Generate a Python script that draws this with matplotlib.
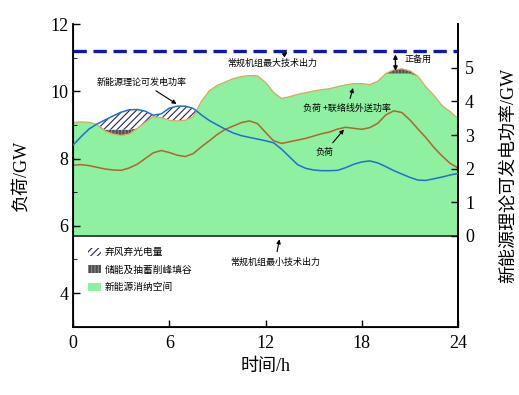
import numpy as np
import matplotlib
matplotlib.use('Agg')
import matplotlib.pyplot as plt
from matplotlib.patches import Patch

# hours, 0.5 h step
hours = np.arange(0, 24.01, 0.5)

# renewable theoretical output (right axis, GW)
renew = [2.70, 2.95, 3.18, 3.33, 3.45, 3.57, 3.68, 3.75, 3.76, 3.71, 3.59, 3.63,
         3.80, 3.86, 3.86, 3.79, 3.60, 3.43, 3.30, 3.17, 3.06, 2.98, 2.93, 2.88,
         2.83, 2.77, 2.58, 2.35, 2.12, 2.01, 1.96, 1.94, 1.94, 1.95, 2.03, 2.13,
         2.20, 2.23, 2.17, 2.06, 1.94, 1.84, 1.74, 1.66, 1.65, 1.70, 1.75, 1.81, 1.86]

# load (left axis, GW)
load = [7.80, 7.82, 7.79, 7.74, 7.69, 7.66, 7.65, 7.72, 7.83, 8.00, 8.17, 8.24,
        8.18, 8.10, 8.06, 8.15, 8.35, 8.53, 8.72, 8.87, 8.97, 9.07, 9.12, 9.04,
        8.78, 8.53, 8.45, 8.50, 8.55, 8.60, 8.67, 8.74, 8.79, 8.88, 8.93, 8.90,
        8.87, 8.92, 9.05, 9.30, 9.42, 9.37, 9.15, 8.88, 8.62, 8.33, 8.08, 7.86, 7.72]

# load + tie-line export (left axis, GW)
load_exp = [9.08, 9.09, 9.08, 9.01, 8.82, 8.73, 8.69, 8.73, 8.90, 9.08, 9.25, 9.22,
            9.14, 9.12, 9.14, 9.25, 9.70, 10.02, 10.18, 10.28, 10.38, 10.44, 10.47, 10.46,
            10.27, 9.97, 9.79, 9.84, 9.91, 9.96, 10.01, 10.05, 10.08, 10.14, 10.19, 10.23,
            10.23, 10.20, 10.30, 10.53, 10.64, 10.67, 10.61, 10.45, 10.13, 9.88, 9.58, 9.40, 9.19]

p_min = 5.7       # conventional units min output
p_max = 11.2      # conventional units max output
valley_fill = 8.86
peak_shave = 10.53

renew = np.array(renew)
load = np.array(load)
load_exp = np.array(load_exp)
renew_left = renew + p_min
shaped = np.clip(load_exp, valley_fill, peak_shave)

serif = ['Liberation Serif', 'Noto Sans CJK SC']
cjk = ['Noto Sans CJK SC', 'DejaVu Sans']
plt.rcParams['hatch.linewidth'] = 0.8

green = '#8EF0A0'

fig = plt.figure(figsize=(5.19, 3.95), dpi=100)
ax = fig.add_axes([0.1407, 0.173, 0.7418, 0.766])

ax.fill_between(hours, p_min, np.minimum(load_exp, peak_shave), facecolor=green,
                linewidth=0, zorder=1)
ax.fill_between(hours, load_exp, shaped, where=load_exp != shaped, interpolate=True,
                facecolor='#505050', hatch='|||||', edgecolor='#8a8a8a', linewidth=0, zorder=2)
ax.fill_between(hours, shaped, renew_left, where=renew_left > shaped, interpolate=True,
                facecolor='white', hatch='/////', edgecolor='#25255a', linewidth=0, zorder=2)
ax.axhline(p_min, color='#2c3a2c', lw=1.3, zorder=3)
ax.plot(hours, load, color='#b0652e', lw=1.1, zorder=4)
ax.plot(hours, load_exp, color='#d9a860', lw=0.9, zorder=4)
ax.axhline(p_max, color='#1018a8', lw=2.4, ls=(0, (4, 2)), zorder=5)

ax.set_xlim(0, 24)
ax.set_ylim(3, 12)
ax.set_xticks([0, 6, 12, 18, 24])
ax.set_yticks([4, 6, 8, 10, 12])
ax.set_yticks([5, 7, 9, 11], minor=True)
ax.tick_params(direction='in', labelsize=13, length=5, width=1)
ax.tick_params(which='minor', direction='in', length=3)
ax.tick_params(axis='x', pad=6)
for lab in ax.get_xticklabels() + ax.get_yticklabels():
    lab.set_family('Liberation Serif')
ax.spines['top'].set_visible(False)
for s in ['left', 'bottom', 'right']:
    ax.spines[s].set_linewidth(1.3)
ax.set_xlabel('时间/h', family=serif, fontsize=13, labelpad=4)
ax.set_ylabel('负荷/GW', family=serif, fontsize=13, labelpad=15)

ax2 = ax.twinx()
ax2.plot(hours, renew, color='#1f6fd0', lw=1.1, zorder=4)
ax2.set_ylim(3 - p_min, 12 - p_min)
ax2.set_yticks([0, 1, 2, 3, 4, 5])
ax2.tick_params(direction='in', labelsize=13, length=5, width=1, pad=5)
for lab in ax2.get_yticklabels():
    lab.set_family('Liberation Serif')
ax2.spines['top'].set_visible(False)
ax2.spines['right'].set_linewidth(1.3)
ax2.set_ylabel('新能源理论可发电功率/GW', family=serif, fontsize=13, labelpad=19)

arrow = dict(arrowstyle='-|>', color='black', lw=0.8, mutation_scale=6)
fs = 6.5
ax.annotate('常规机组最大技术出力', xy=(13.5, p_max), xytext=(12.4, 10.84),
            ha='center', va='center', fontsize=fs, family=cjk, arrowprops=arrow, zorder=6)
ax.annotate('新能源理论可发电功率', xy=(6.6, 9.58), xytext=(4.3, 10.28),
            ha='center', va='center', fontsize=fs, family=cjk, arrowprops=arrow, zorder=6)
ax.annotate('负荷 +联络线外送功率', xy=(17.5, 10.18), xytext=(17.1, 9.49),
            ha='center', va='center', fontsize=fs, family=cjk, arrowprops=arrow, zorder=6)
ax.annotate('负荷', xy=(17.0, 8.93), xytext=(15.7, 8.19),
            ha='center', va='center', fontsize=fs, family=cjk, arrowprops=arrow, zorder=6)
ax.annotate('常规机组最小技术出力', xy=(12.9, 5.68), xytext=(12.6, 4.93),
            ha='center', va='center', fontsize=fs, family=cjk, arrowprops=arrow, zorder=6)
ax.annotate('', xy=(20.1, p_max - 0.02), xytext=(20.1, peak_shave),
            arrowprops=dict(arrowstyle='<|-|>', color='black', lw=1.0, mutation_scale=6), zorder=6)
ax.text(21.5, 10.95, '正备用', ha='center', va='center', fontsize=fs, family=cjk, zorder=6)

handles = [Patch(facecolor='white', hatch='/////', edgecolor='#25255a', linewidth=0),
           Patch(facecolor='#505050', hatch='|||||', edgecolor='#8a8a8a', linewidth=0),
           Patch(facecolor=green, linewidth=0)]
labels = ['弃风弃光电量', '储能及抽蓄削峰填谷', '新能源消纳空间']
ax.legend(handles, labels, loc='upper left', bbox_to_anchor=(0.03, 0.275), frameon=False,
          prop={'family': cjk, 'size': 7}, handlelength=1.3, handleheight=0.9,
          handletextpad=0.4, labelspacing=0.75, borderaxespad=0)

fig.savefig('out.png', dpi=100)
